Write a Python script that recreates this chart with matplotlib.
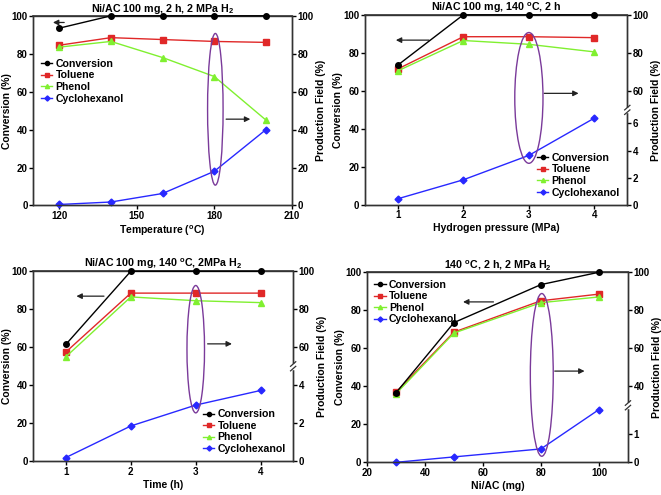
import numpy as np
import matplotlib as mpl
mpl.use('Agg')
import matplotlib.pyplot as plt
from matplotlib.patches import Ellipse, Rectangle

plt.rcParams['font.family'] = ['Liberation Sans', 'DejaVu Sans']
plt.rcParams['font.weight'] = 'bold'
plt.rcParams['axes.labelweight'] = 'bold'
plt.rcParams['axes.titleweight'] = 'bold'
plt.rcParams['mathtext.fontset'] = 'custom'
plt.rcParams['mathtext.rm'] = 'Liberation Sans:bold'
plt.rcParams['mathtext.it'] = 'Liberation Sans:bold'

# ---- data ----
temp = [120, 140, 160, 180, 200]
temp_conv = [93.5, 100, 100, 100, 100]
temp_tol = [84.5, 88.5, 87.5, 86.5, 86]
temp_phe = [83.5, 86.5, 78, 68, 45]
temp_cyc = [0.5, 1.8, 6.3, 18, 40]

press = [1, 2, 3, 4]
press_conv = [73.5, 100, 100, 100]
press_tol = [71.5, 88.5, 88.5, 88]
press_phe = [70.5, 86.5, 84.5, 80.5]
press_cyc = [0.45, 1.85, 3.65, 6.4]

hours = [1, 2, 3, 4]
time_conv = [61.5, 100, 100, 100]
time_tol = [57.5, 88.5, 88.5, 88.5]
time_phe = [55, 86.5, 84.5, 83.5]
time_cyc = [0.2, 1.86, 2.96, 3.73]

mass = [30, 50, 80, 100]
mass_conv = [36.5, 73.5, 93.5, 100]
mass_tol = [36.8, 68.5, 85, 88.5]
mass_phe = [36, 68, 84, 87]
mass_cyc = [0.0, 0.19, 0.47, 1.85]

C_CONV = 'black'
C_TOL = '#e02828'
C_PHE = '#80f030'
C_CYC = '#2828ff'
C_ELL = '#7a3a9a'


def broken_funcs(low_top, pos):
    # right axis value -> position on the 0-100 left scale
    if low_top is None:
        return (lambda r: r, lambda p: p)
    fwd = lambda r: np.interp(r, [0, low_top, pos, 100], [0, pos, pos, 100])
    inv = lambda p: np.interp(p, [0, pos, pos + 1e-6, 100], [0, low_top, pos, 100])
    return fwd, inv


def panel(rect, x, conv, tol, phe, cyc, xlim, xticks, xlabel, title,
          rticks, brk, larrow, rarrow, ell, legloc, legbox=None):
    ax = fig.add_axes(rect)
    ax2 = ax.twinx()
    ax.set_zorder(ax2.get_zorder() + 1)
    ax.patch.set_visible(False)

    fwd, inv = broken_funcs(*brk) if brk else broken_funcs(None, None)
    ax2.set_yscale('function', functions=(fwd, inv))

    ax.plot(x, conv, '-o', color=C_CONV, ms=4, lw=1, label='Conversion', clip_on=False, zorder=5)
    l2, = ax2.plot(x, tol, '-s', color=C_TOL, ms=4, lw=1, label='Toluene', clip_on=False)
    l3, = ax2.plot(x, phe, '-^', color=C_PHE, ms=4, lw=1, label='Phenol', clip_on=False)
    l4, = ax2.plot(x, cyc, '-D', color=C_CYC, ms=3.5, lw=1, label='Cyclohexanol', clip_on=False)
    # redraw the right-axis series in left-axis coordinates so they sit on top
    for ln in (l2, l3, l4):
        ax.plot(x, fwd(np.array(ln.get_ydata(), dtype=float)), ln.get_linestyle(),
                marker=ln.get_marker(), color=ln.get_color(), ms=ln.get_markersize(),
                lw=1, label=ln.get_label(), clip_on=False)
        ln.set_visible(False)

    ax.set_xlim(*xlim)
    ax.set_ylim(0, 100)
    ax2.set_ylim(0, 100)
    ax.set_xticks(xticks)
    ax.set_yticks([0, 20, 40, 60, 80, 100])
    ax2.set_yticks(rticks)
    ax2.set_yticklabels([str(t) for t in rticks])

    for a in (ax, ax2):
        a.tick_params(direction='out', length=3, width=1, labelsize=7, pad=1)
        for s in a.spines.values():
            s.set_color('#333333')
            s.set_linewidth(1)
    ax.spines['top'].set_linewidth(1.2)

    ax.set_xlabel(xlabel, fontsize=7.5, labelpad=2)
    ax.set_ylabel('Conversion (%)', fontsize=7.5, labelpad=0)
    ax2.set_ylabel('Production Field (%)', fontsize=7.5, labelpad=1.5)
    ax.set_title(title, fontsize=7.7, pad=3)

    # break marks on right spine
    if brk:
        yb = brk[1] / 100.0
        ax.add_patch(Rectangle((0.985, yb - 0.012), 0.03, 0.024, transform=ax.transAxes,
                               color='white', clip_on=False, zorder=10))
        for d in (-0.012, 0.012):
            ax.plot([0.99, 1.01], [yb + d - 0.012, yb + d + 0.012], color='#333333', lw=0.9,
                    transform=ax.transAxes, clip_on=False, zorder=11)

    ax.annotate('', xy=larrow[1], xytext=larrow[0],
                arrowprops=dict(arrowstyle='-|>', color='#222222', lw=0.9, mutation_scale=8))
    ax.annotate('', xy=rarrow[1], xytext=rarrow[0],
                arrowprops=dict(arrowstyle='-|>', color='#222222', lw=0.9, mutation_scale=8))
    ax.add_patch(Ellipse(ell[:2], ell[2], ell[3], fill=False, edgecolor=C_ELL, lw=1, zorder=6))

    ax.legend(loc=legloc, bbox_to_anchor=legbox, frameon=False, fontsize=7.6,
              handlelength=1.1, handletextpad=0.3, labelspacing=0.15,
              borderaxespad=0.3, markerscale=0.75)
    return ax


fig = plt.figure(figsize=(6.61, 4.95), dpi=100)

panel([0.0505, 0.585, 0.391, 0.383], temp, temp_conv, temp_tol, temp_phe, temp_cyc,
      (110, 210), [120, 150, 180, 210], 'Temperature ($^{\\mathregular{o}}$C)',
      'Ni/AC 100 mg, 2 h, 2 MPa H$_2$', [0, 20, 40, 60, 80, 100], None,
      ((123, 96.5), (116.5, 96.5)), ((183.5, 45.5), (195, 45.5)),
      (180.4, 50.7, 6, 80), 'center left', (0.0, 0.655))

panel([0.552, 0.586, 0.397, 0.384], press, press_conv, press_tol, press_phe, press_cyc,
      (0.5, 4.5), [1, 2, 3, 4], 'Hydrogen pressure (MPa)',
      'Ni/AC 100 mg, 140 $^{\\mathregular{o}}$C, 2 h', [0, 2, 4, 6, 60, 80, 100], (7, 50),
      ((1.52, 86.7), (0.93, 86.7)), ((3.19, 58.7), (3.8, 58.7)),
      (3.0, 56.3, 0.43, 68.8), 'lower right')

panel([0.0505, 0.068, 0.393, 0.384], hours, time_conv, time_tol, time_phe, time_cyc,
      (0.5, 4.5), [1, 2, 3, 4], 'Time (h)',
      'Ni/AC 100 mg, 140 $^{\\mathregular{o}}$C, 2MPa H$_2$', [0, 2, 4, 60, 80, 100], (5, 50),
      ((1.63, 86.9), (1.12, 86.9)), ((3.14, 61.8), (3.6, 61.8)),
      (3.0, 59, 0.27, 67), 'lower right')

panel([0.555, 0.066, 0.395, 0.384], mass, mass_conv, mass_tol, mass_phe, mass_cyc,
      (20, 110), [20, 40, 60, 80, 100], 'Ni/AC (mg)',
      '140 $^{\\mathregular{o}}$C, 2 h, 2 MPa H$_2$', [0, 1, 40, 60, 80, 100], (2, 30),
      ((64.6, 84.4), (52.2, 84.4)), ((83.8, 48), (96, 48)),
      (80.3, 46, 7.9, 85.6), 'upper left')

plt.savefig('out.png', dpi=100)
